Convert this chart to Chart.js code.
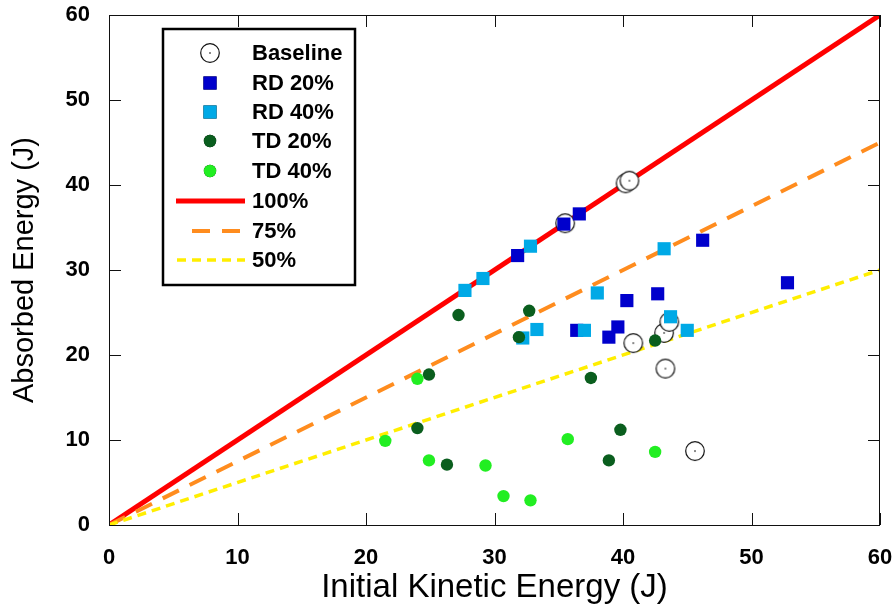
<!DOCTYPE html>
<html>
<head>
<meta charset="utf-8">
<script src="https://cdn.jsdelivr.net/npm/chart.js@4"></script>
<style>
  html, body { margin: 0; padding: 0; background: #fff; }
  #wrap { width: 896px; height: 609px; }
</style>
</head>
<body>
<div id="wrap"><canvas id="c" width="896" height="609"></canvas></div>
<script>
// data
const baselineX = [35.5, 40.2, 40.5, 40.8, 43.2, 43.6, 43.3, 45.6];
const baselineY = [35.5, 40.2, 40.5, 21.4, 22.6, 23.9, 18.4, 8.7];

const rd20X = [31.8, 35.4, 36.6, 40.3, 42.7, 46.2, 52.8, 36.4, 39.6, 38.9];
const rd20Y = [31.7, 35.4, 36.6, 26.4, 27.2, 33.5, 28.5, 22.9, 23.3, 22.1];

const rd40X = [27.7, 29.1, 32.8, 43.2, 38.0, 33.3, 32.2, 37.0, 43.7, 45.0];
const rd40Y = [27.6, 29.0, 32.8, 32.5, 27.3, 23.0, 22.0, 22.9, 24.5, 22.9];

const td20X = [27.2, 32.7, 31.9, 42.5, 24.9, 37.5, 24.0, 26.3, 39.8, 38.9];
const td20Y = [24.7, 25.2, 22.1, 21.7, 17.7, 17.3, 11.4, 7.1, 11.2, 7.6];

const td40X = [24.0, 21.5, 24.9, 29.3, 30.7, 32.8, 35.7, 42.5];
const td40Y = [17.2, 9.9, 7.6, 7.0, 3.4, 2.9, 10.1, 8.6];

const lineX = [0, 60];
const line100Y = [0, 60];
const line75Y = [0, 45];
const line50Y = [0, 30];

const xTicks = [0, 10, 20, 30, 40, 50, 60];
const yTicks = [0, 10, 20, 30, 40, 50, 60];

function pts(xs, ys) {
  return xs.map((x, i) => ({ x: x, y: ys[i] }));
}

// open circle with a dot in the middle
function makeBaselineMark() {
  const c = document.createElement('canvas');
  c.width = 22; c.height = 22;
  const g = c.getContext('2d');
  g.beginPath();
  g.arc(11, 11, 9.3, 0, Math.PI * 2);
  g.fillStyle = '#fff';
  g.fill();
  g.lineWidth = 1.2;
  g.strokeStyle = '#111';
  g.stroke();
  g.fillStyle = '#111';
  g.fillRect(10.3, 10.3, 1.4, 1.4);
  return c;
}
const baselineMark = makeBaselineMark();

const framePlugin = {
  id: 'frame',
  afterDraw(chart) {
    const ctx = chart.ctx;
    const a = chart.chartArea;
    const xs = chart.scales.x, ys = chart.scales.y;
    ctx.save();
    ctx.strokeStyle = '#111';
    ctx.lineWidth = 1;
    ctx.strokeRect(a.left + 0.5, a.top + 0.5, a.right - a.left - 1, a.bottom - a.top);
    const tl = 12;
    ctx.beginPath();
    xTicks.forEach(v => {
      const px = Math.round(xs.getPixelForValue(v)) + 0.5;
      ctx.moveTo(px, a.bottom); ctx.lineTo(px, a.bottom - tl);
      ctx.moveTo(px, a.top); ctx.lineTo(px, a.top + tl);
    });
    yTicks.forEach(v => {
      const py = Math.round(ys.getPixelForValue(v)) + 0.5;
      ctx.moveTo(a.left, py); ctx.lineTo(a.left + tl, py);
      ctx.moveTo(a.right, py); ctx.lineTo(a.right - tl, py);
    });
    ctx.stroke();

    // legend box
    const bx = 163, by = 29, bw = 192, bh = 256;
    ctx.fillStyle = '#fff';
    ctx.fillRect(bx, by, bw, bh);
    ctx.lineWidth = 2.5;
    ctx.strokeStyle = '#000';
    ctx.strokeRect(bx, by, bw, bh);
    const rowY = [53, 83, 112, 141, 171, 201, 231, 260];
    const sample = { '100%': [176, 245], '75%': [192, 242], '50%': [177, 245] };
    ctx.font = 'bold 22px "Liberation Sans", Arial, sans-serif';
    ctx.textBaseline = 'middle';
    ctx.textAlign = 'left';
    chart.data.datasets.forEach((ds, i) => {
      const y = rowY[i];
      if (ds.type === 'line') {
        const s = sample[ds.label];
        ctx.save();
        ctx.strokeStyle = ds.borderColor;
        ctx.lineWidth = ds.borderWidth;
        ctx.setLineDash(ds.borderDash || []);
        ctx.beginPath();
        ctx.moveTo(s[0], y); ctx.lineTo(s[1], y);
        ctx.stroke();
        ctx.restore();
      } else {
        Chart.helpers.drawPoint(ctx, {
          pointStyle: ds.pointStyle, radius: ds.pointRadius, borderWidth: 0, rotation: 0
        }, 210, y);
        ctx.fillStyle = ds.backgroundColor;
        if (ds.pointStyle !== baselineMark) ctx.fill();
      }
      ctx.fillStyle = '#000';
      ctx.fillText(ds.label, 252, y + 1);
    });
    ctx.restore();
  }
};

new Chart(document.getElementById('c'), {
  type: 'scatter',
  data: {
    datasets: [
      { label: 'Baseline', data: pts(baselineX, baselineY), pointStyle: baselineMark, pointRadius: 10, backgroundColor: '#fff', order: 5 },
      { label: 'RD 20%', data: pts(rd20X, rd20Y), pointStyle: 'rect', pointRadius: 9.3, backgroundColor: '#0000CC', borderWidth: 0, order: 4 },
      { label: 'RD 40%', data: pts(rd40X, rd40Y), pointStyle: 'rect', pointRadius: 9.3, backgroundColor: '#00A9E6', borderWidth: 0, order: 3 },
      { label: 'TD 20%', data: pts(td20X, td20Y), pointStyle: 'circle', pointRadius: 6.2, backgroundColor: '#0A5E1E', borderWidth: 0, order: 2 },
      { label: 'TD 40%', data: pts(td40X, td40Y), pointStyle: 'circle', pointRadius: 6.2, backgroundColor: '#22EE22', borderWidth: 0, order: 1 },
      { type: 'line', label: '100%', data: pts(lineX, line100Y), borderColor: '#FF0000', borderWidth: 5, pointRadius: 0, fill: false, order: 8 },
      { type: 'line', label: '75%', data: pts(lineX, line75Y), borderColor: '#FF8C1E', borderWidth: 4, borderDash: [18, 12], pointRadius: 0, fill: false, order: 7 },
      { type: 'line', label: '50%', data: pts(lineX, line50Y), borderColor: '#FFEE00', borderWidth: 3.5, borderDash: [9, 6], pointRadius: 0, fill: false, order: 6 }
    ]
  },
  options: {
    responsive: false,
    animation: false,
    events: [],
    layout: { padding: { top: 15, right: 16, left: 0, bottom: 0 }, autoPadding: false },
    plugins: { legend: { display: false }, tooltip: { enabled: false } },
    scales: {
      x: {
        type: 'linear', min: 0, max: 60,
        border: { display: false },
        grid: { display: false, drawTicks: false },
        afterFit(s) { s.height = 84; s.paddingLeft = 0; s.paddingRight = 0; },
        afterBuildTicks(s) { s.ticks = xTicks.map(v => ({ value: v })); },
        ticks: { padding: 20, color: '#000', font: { family: '"Liberation Sans", Arial, sans-serif', size: 22, weight: 'bold' } },
        title: { display: true, text: 'Initial Kinetic Energy (J)', color: '#000', padding: { top: 0, bottom: 1 },
          font: { family: '"Liberation Sans", Arial, sans-serif', size: 33 } }
      },
      y: {
        type: 'linear', min: 0, max: 60,
        border: { display: false },
        grid: { display: false, drawTicks: false },
        afterFit(s) { s.width = 109; s.paddingTop = 0; s.paddingBottom = 0; },
        afterBuildTicks(s) { s.ticks = yTicks.map(v => ({ value: v })); },
        ticks: { padding: 19, color: '#000', font: { family: '"Liberation Sans", Arial, sans-serif', size: 22, weight: 'bold' } },
        title: { display: true, text: 'Absorbed Energy (J)', color: '#000', padding: { top: 8, bottom: 0 },
          font: { family: '"Liberation Sans", Arial, sans-serif', size: 29 } }
      }
    }
  },
  plugins: [framePlugin]
});
</script>
</body>
</html>
